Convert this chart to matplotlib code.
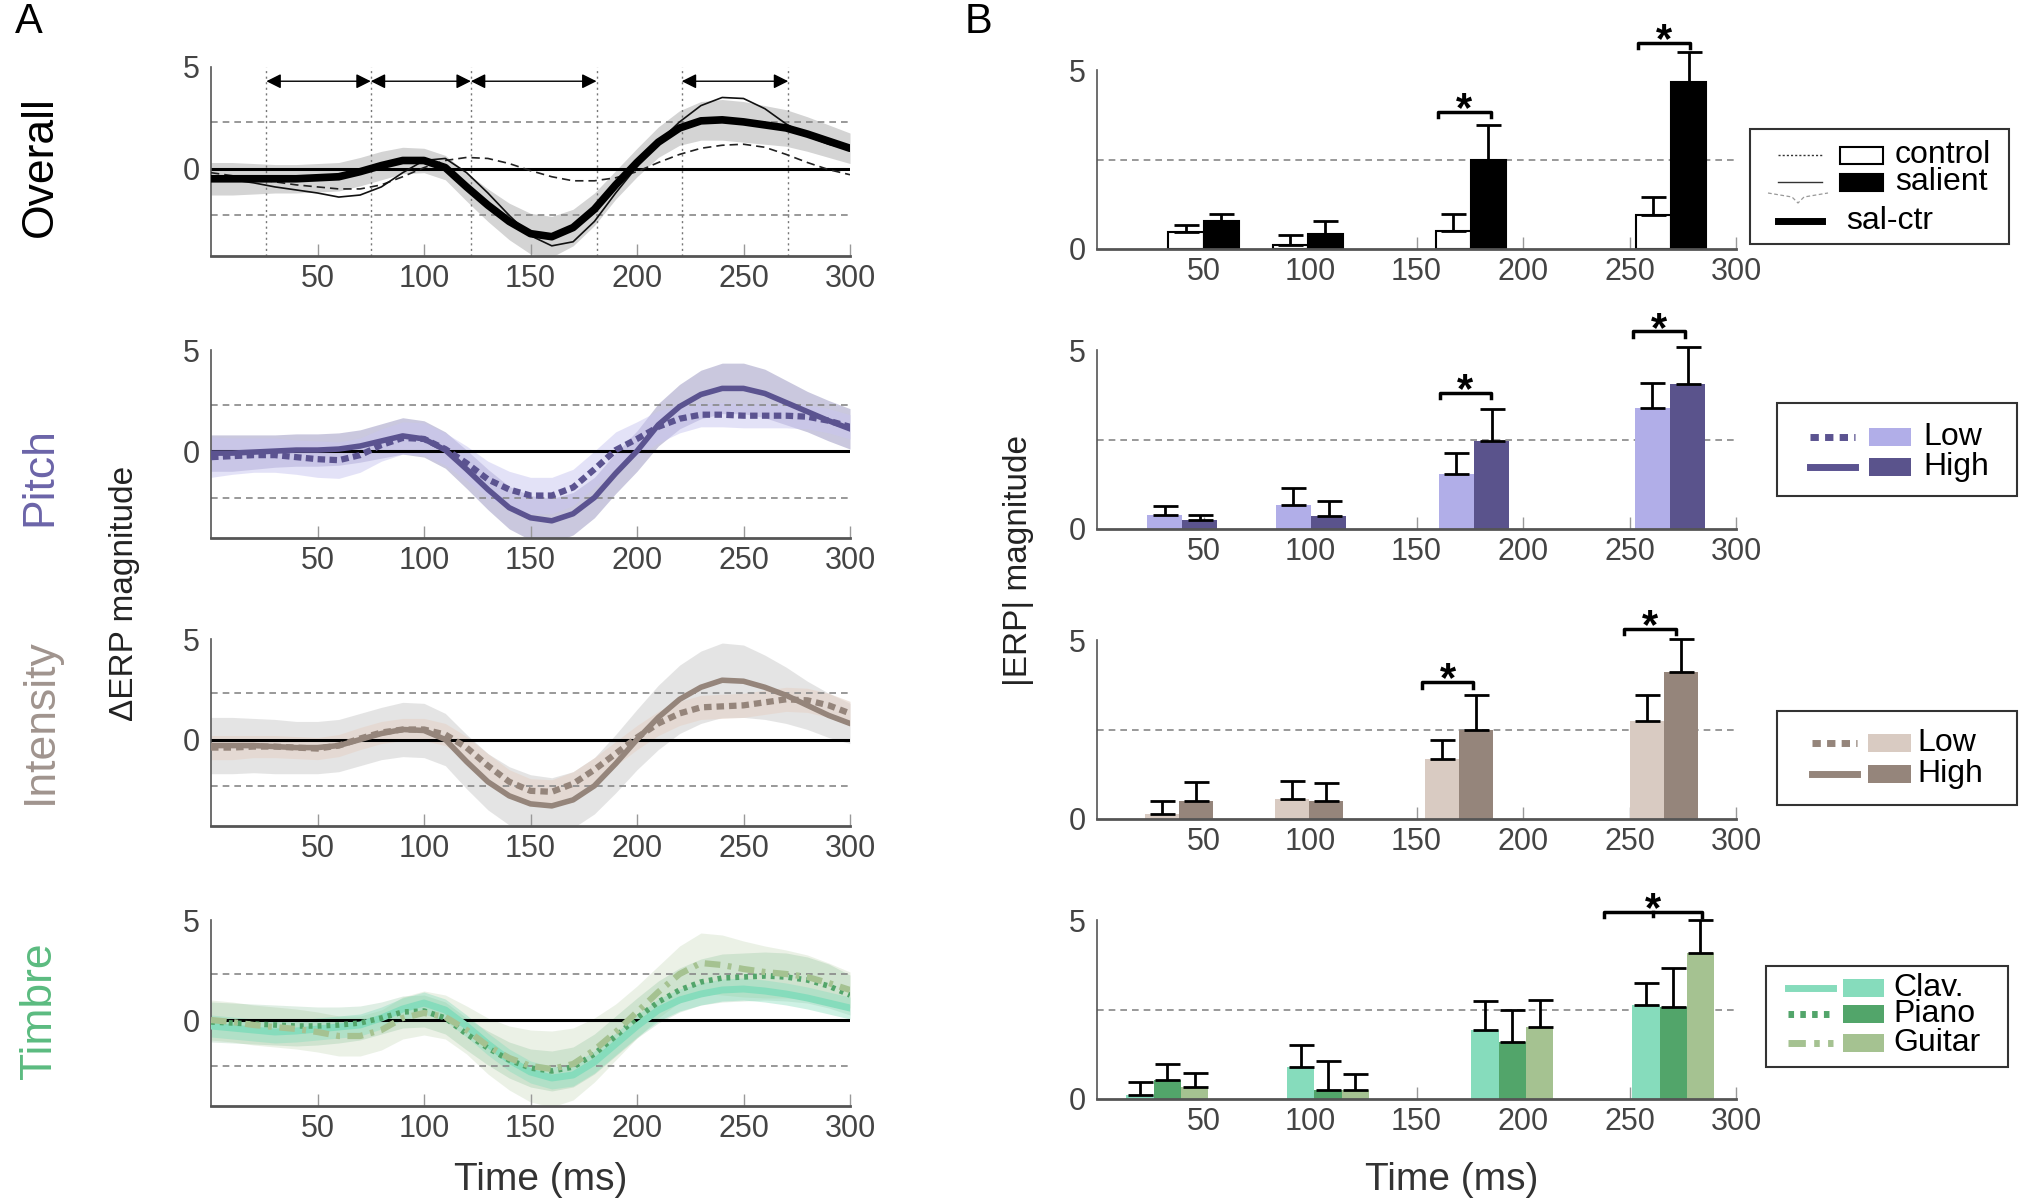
import numpy as np
import matplotlib
matplotlib.use('Agg')
from matplotlib import pyplot as plt
from matplotlib.patches import Rectangle

plt.rcParams['font.family'] = ['Liberation Sans', 'DejaVu Sans']

W, H = 2020, 1203

# ---- data: time courses (sampled every 10 ms) ----
t = np.arange(0, 301, 10)

overall_diff = [-0.5, -0.5, -0.5, -0.5, -0.5, -0.45, -0.4, -0.15, 0.15, 0.4, 0.4,
                0.05, -0.9, -1.8, -2.6, -3.2, -3.35, -2.9, -2.0, -0.8, 0.3,
                1.3, 2.0, 2.35, 2.4, 2.3, 2.15, 2.0, 1.7, 1.35, 1.0]
overall_diff_sem = [0.8, 0.8, 0.75, 0.7, 0.7, 0.7, 0.7, 0.7, 0.7, 0.65, 0.6,
                    0.6, 0.7, 0.8, 0.9, 1.0, 1.0, 0.9, 0.8, 0.7, 0.7,
                    0.75, 0.85, 0.95, 1.0, 1.0, 0.95, 0.9, 0.85, 0.8, 0.75]
overall_salient = [-0.4, -0.55, -0.7, -0.9, -1.05, -1.2, -1.4, -1.3, -0.9, -0.2, 0.4,
                   0.5, -0.2, -1.2, -2.3, -3.3, -3.8, -3.6, -2.6, -1.2, 0.1,
                   1.3, 2.3, 3.1, 3.5, 3.45, 2.95, 2.2, 1.6, 1.2, 0.95]
overall_control = [-0.2, -0.35, -0.5, -0.65, -0.8, -0.9, -1.0, -1.0, -0.8, -0.4, 0.05,
                   0.4, 0.55, 0.5, 0.25, -0.1, -0.4, -0.6, -0.6, -0.45, -0.15,
                   0.3, 0.7, 1.0, 1.15, 1.2, 1.05, 0.7, 0.3, -0.05, -0.3]

pitch_high = [-0.1, -0.1, -0.05, 0.0, 0.05, 0.05, 0.1, 0.25, 0.5, 0.75, 0.6,
              0.05, -0.9, -1.9, -2.8, -3.3, -3.45, -3.1, -2.3, -1.1, 0.0,
              1.3, 2.2, 2.8, 3.1, 3.1, 2.85, 2.4, 1.95, 1.5, 1.1]
pitch_high_sem = [0.9, 0.9, 0.85, 0.8, 0.8, 0.8, 0.8, 0.8, 0.85, 0.9, 0.9,
                  0.9, 0.95, 1.0, 1.05, 1.1, 1.1, 1.05, 1.0, 1.0, 1.0,
                  1.05, 1.1, 1.2, 1.25, 1.25, 1.2, 1.1, 1.0, 1.0, 1.0]
pitch_low = [-0.3, -0.25, -0.2, -0.2, -0.3, -0.4, -0.45, -0.2, 0.3, 0.65, 0.6,
             0.1, -0.6, -1.4, -1.9, -2.2, -2.2, -1.8, -0.9, 0.05, 0.6,
             1.2, 1.6, 1.8, 1.8, 1.75, 1.75, 1.75, 1.7, 1.5, 1.2]
pitch_low_sem = [1.0, 0.9, 0.85, 0.85, 0.85, 0.9, 0.9, 0.85, 0.8, 0.8, 0.8,
                 0.8, 0.85, 0.9, 0.9, 0.9, 0.9, 0.9, 0.9, 0.9, 0.85,
                 0.8, 0.7, 0.6, 0.6, 0.6, 0.6, 0.6, 0.6, 0.6, 0.6]

int_high = [-0.3, -0.3, -0.3, -0.35, -0.4, -0.4, -0.3, 0.0, 0.3, 0.5, 0.45,
            0.0, -1.1, -2.1, -2.8, -3.2, -3.3, -3.0, -2.3, -1.2, 0.0,
            1.1, 2.0, 2.6, 2.95, 2.9, 2.6, 2.2, 1.7, 1.2, 0.8]
int_high_sem = [1.4, 1.4, 1.35, 1.35, 1.3, 1.3, 1.3, 1.3, 1.3, 1.35, 1.35,
                1.3, 1.35, 1.4, 1.45, 1.45, 1.4, 1.4, 1.4, 1.45, 1.5,
                1.6, 1.7, 1.8, 1.85, 1.8, 1.6, 1.4, 1.2, 1.1, 1.0]
int_low = [-0.4, -0.4, -0.35, -0.35, -0.4, -0.45, -0.3, 0.05, 0.35, 0.5, 0.5,
           0.25, -0.4, -1.3, -2.1, -2.55, -2.6, -2.2, -1.5, -0.7, 0.1,
           0.8, 1.3, 1.6, 1.65, 1.7, 1.85, 2.0, 1.95, 1.7, 1.3]
int_low_sem = [0.6, 0.6, 0.55, 0.55, 0.55, 0.55, 0.55, 0.55, 0.55, 0.55, 0.55,
               0.55, 0.55, 0.6, 0.6, 0.6, 0.6, 0.6, 0.6, 0.6, 0.6,
               0.6, 0.6, 0.6, 0.6, 0.6, 0.6, 0.6, 0.6, 0.6, 0.6]

timbre_clav = [-0.3, -0.4, -0.5, -0.6, -0.55, -0.45, -0.35, -0.25, 0.1, 0.55, 0.85,
               0.5, -0.3, -1.2, -2.0, -2.6, -2.9, -2.75, -2.1, -1.2, -0.3,
               0.5, 1.0, 1.3, 1.5, 1.55, 1.45, 1.3, 1.1, 0.85, 0.6]
timbre_piano = [-0.1, -0.15, -0.2, -0.25, -0.3, -0.3, -0.25, -0.15, 0.1, 0.4, 0.45,
                0.1, -0.7, -1.4, -2.0, -2.4, -2.55, -2.35, -1.7, -0.8, 0.1,
                0.9, 1.5, 1.9, 2.1, 2.15, 2.2, 2.15, 2.0, 1.7, 1.25]
timbre_guitar = [0.0, -0.1, -0.25, -0.35, -0.45, -0.6, -0.8, -0.8, -0.5, 0.1, 0.35,
                 0.15, -0.5, -1.3, -1.9, -2.3, -2.45, -2.2, -1.5, -0.6, 0.4,
                 1.4, 2.3, 2.85, 2.75, 2.55, 2.4, 2.3, 2.15, 1.85, 1.5]
timbre_clav_sem = [0.55] * 31
timbre_piano_sem = [1.0, 1.0, 1.0, 1.0, 1.0, 0.95, 0.9, 0.85, 0.8, 0.8, 0.8,
                    0.8, 0.8, 0.85, 0.9, 0.95, 1.0, 1.0, 1.0, 1.0, 1.0,
                    1.05, 1.1, 1.15, 1.2, 1.2, 1.2, 1.2, 1.15, 1.1, 1.0]
timbre_guitar_sem = [1.0, 1.0, 1.0, 1.0, 1.0, 1.0, 1.0, 1.0, 1.0, 1.05, 1.1,
                     1.1, 1.2, 1.4, 1.6, 1.8, 1.9, 1.8, 1.6, 1.4, 1.3,
                     1.3, 1.4, 1.5, 1.5, 1.4, 1.3, 1.2, 1.1, 1.0, 0.9]

window_edges = [26, 75, 122, 181, 221, 271]
window_arrows = [(26, 75), (75, 122), (122, 181), (221, 271)]

# ---- data: window magnitudes (bars) ----
overall_t = [50, 99, 175.5, 269.5]
overall_ctrl = [0.48, 0.11, 0.5, 0.96]
overall_ctrl_err = [0.19, 0.27, 0.49, 0.48]
overall_sal = [0.77, 0.42, 2.5, 4.66]
overall_sal_err = [0.2, 0.36, 0.96, 0.83]

pitch_t = [40, 100.5, 177, 269]
pitch_low_bar = [0.39, 0.66, 1.55, 3.38]
pitch_low_err = [0.26, 0.48, 0.56, 0.71]
pitch_high_bar = [0.24, 0.35, 2.46, 4.04]
pitch_high_err = [0.16, 0.44, 0.89, 1.05]

int_t = [38.5, 99.5, 170, 266]
int_low_bar = [0.14, 0.55, 1.67, 2.74]
int_low_err = [0.35, 0.5, 0.53, 0.72]
int_high_bar = [0.5, 0.5, 2.5, 4.12]
int_high_err = [0.53, 0.5, 0.96, 0.92]

timbre_t = [33, 108.5, 195, 270.5]
timbre_clav_bar = [0.11, 0.9, 1.94, 2.63]
timbre_clav_err = [0.36, 0.6, 0.79, 0.6]
timbre_piano_bar = [0.52, 0.25, 1.6, 2.57]
timbre_piano_err = [0.45, 0.81, 0.9, 1.1]
timbre_guitar_bar = [0.34, 0.25, 2.0, 4.08]
timbre_guitar_err = [0.39, 0.45, 0.76, 0.92]

# significance brackets: (x0, x1, y)
overall_sig = [(160, 185, 3.83), (254, 278.5, 5.76)]
pitch_sig = [(161, 185, 3.81), (251.7, 276, 5.52)]
int_sig = [(152.7, 176.7, 3.82), (247.6, 271.7, 5.32)]
timbre_sig = [(238, 284, 5.22)]

ticks = [50, 100, 150, 200, 250, 300]

# colours
PITCH_DARK, PITCH_LIGHT = '#5b5390', '#b1aee8'
INT_DARK, INT_LIGHT = '#95857b', '#d9cbc2'
CLAV, PIANO, GUITAR = '#86dcbc', '#52a56a', '#a5c291'

fig = plt.figure(figsize=(W / 100, H / 100), dpi=100)


def px_axes(x0, y_top, x1, y_bot):
    return fig.add_axes([x0 / W, 1 - y_bot / H, (x1 - x0) / W, (y_bot - y_top) / H])


def style(ax):
    for s in ['top', 'right']:
        ax.spines[s].set_visible(False)
    ax.spines['left'].set_color('#555')
    ax.spines['left'].set_linewidth(1.2)
    ax.spines['bottom'].set_color('#555')
    ax.spines['bottom'].set_linewidth(2)
    ax.set_xlim(0, 300)
    ax.set_xticks(ticks)
    ax.set_yticks([0, 5])
    ax.tick_params(axis='x', direction='in', length=9, width=1, color='#999',
                   labelsize=22, labelcolor='#444', pad=6)
    ax.tick_params(axis='y', length=0, labelsize=22, labelcolor='#444', pad=8)
    ax.patch.set_visible(False)


def left_panel(y_top, y_bot):
    ax = px_axes(211, y_top, 850, y_bot)
    style(ax)
    ax.set_ylim(-4.3, 5)
    ax.axhline(2.3, color='#888', lw=1.2, ls=(0, (4, 3)), zorder=1)
    ax.axhline(-2.3, color='#888', lw=1.2, ls=(0, (4, 3)), zorder=1)
    return ax


def band(ax, m, s, color, alpha):
    m = np.array(m)
    s = np.array(s)
    ax.fill_between(t, m - s, m + s, color=color, alpha=alpha, lw=0, zorder=0)


# ---- A: Overall ----
ax = left_panel(67, 256)
band(ax, overall_diff, overall_diff_sem, '#d4d4d4', 1.0)
for e in window_edges:
    ax.axvline(e, color='#777', lw=1, ls=(0, (1.5, 2.5)), zorder=1)
for a, b in window_arrows:
    ax.annotate('', xy=(b, 4.3), xytext=(a, 4.3),
                arrowprops=dict(arrowstyle='<|-|>', color='k', lw=1,
                                mutation_scale=22, shrinkA=0, shrinkB=0))
ax.axhline(0, color='k', lw=2.2, zorder=2)
ax.plot(t, overall_control, color='#222', lw=1.2, ls=(0, (5, 3)), zorder=3)
ax.plot(t, overall_salient, color='#111', lw=1.2, zorder=3)
ax.plot(t, overall_diff, color='k', lw=5.5, zorder=4, solid_capstyle='round')

# ---- A: Pitch ----
ax = left_panel(350, 538)
band(ax, pitch_high, pitch_high_sem, '#9f9cc4', 0.55)
band(ax, pitch_low, pitch_low_sem, '#c9c6f0', 0.5)
ax.axhline(0, color='k', lw=2.2, zorder=2)
ax.plot(t, pitch_high, color=PITCH_DARK, lw=4, zorder=3)
ax.plot(t, pitch_low, color=PITCH_DARK, lw=4.5, ls=(0, (1.2, 0.7)), zorder=3)

# ---- A: Intensity ----
ax = left_panel(639, 826)
band(ax, int_high, int_high_sem, '#cfcfcf', 0.55)
band(ax, int_low, int_low_sem, '#e4d3c8', 0.6)
ax.axhline(0, color='k', lw=2.2, zorder=2)
ax.plot(t, int_high, color=INT_DARK, lw=4, zorder=3)
ax.plot(t, int_low, color=INT_DARK, lw=4.5, ls=(0, (1.2, 0.8)), zorder=3)

# ---- A: Timbre ----
ax = left_panel(920, 1106)
band(ax, timbre_guitar, timbre_guitar_sem, GUITAR, 0.22)
band(ax, timbre_piano, timbre_piano_sem, PIANO, 0.18)
band(ax, timbre_clav, timbre_clav_sem, CLAV, 0.4)
ax.axhline(0, color='k', lw=2.2, zorder=2)
ax.plot(t, timbre_clav, color=CLAV, lw=5, zorder=3)
ax.plot(t, timbre_piano, color=PIANO, lw=4, ls=(0, (0.7, 0.9)), zorder=3)
ax.plot(t, timbre_guitar, color=GUITAR, lw=4.5, ls=(0, (2.5, 1.2, 0.6, 1.2)), zorder=3)


# ---- B: bar panels ----
def right_panel(y5, y0):
    unit = (y0 - y5) / 5
    ax = px_axes(1097, y5 - 1.2 * unit, 1736, y0)
    style(ax)
    ax.set_ylim(0, 6.2)
    ax.spines['left'].set_bounds(0, 5)
    ax.axhline(2.48, color='#888', lw=1.2, ls=(0, (4, 3)), zorder=1)
    return ax


def bars(ax, centers, width, series):
    n = len(series)
    for i, (vals, errs, fc, ec) in enumerate(series):
        x = np.array(centers) + (i - (n - 1) / 2) * width
        ax.bar(x, vals, width=width, color=fc, edgecolor=ec, lw=1.5 if ec != 'none' else 0,
               zorder=2)
        ax.errorbar(x, vals, yerr=[np.zeros(len(vals)), errs], fmt='none', ecolor='k',
                    elinewidth=2, capsize=9, capthick=2, zorder=3)


def brackets(ax, sigs, center_tick=False):
    for x0, x1, y in sigs:
        ax.plot([x0, x0, x1, x1], [y - 0.15, y, y, y - 0.15], color='k', lw=2.5,
                clip_on=False, zorder=4)
        xc = (x0 + x1) / 2
        if center_tick:
            ax.plot([xc, xc], [y, y - 0.12], color='k', lw=2.5, clip_on=False)
        ax.text(xc, y + 0.05, '*', ha='center', va='center', fontsize=30,
                fontweight='bold')


ax = right_panel(70, 249)
bars(ax, overall_t, 16.5, [(overall_ctrl, overall_ctrl_err, 'white', 'k'),
                           (overall_sal, overall_sal_err, 'k', 'k')])
brackets(ax, overall_sig)

ax = right_panel(350, 529)
bars(ax, pitch_t, 16.5, [(pitch_low_bar, pitch_low_err, PITCH_LIGHT, 'none'),
                         (pitch_high_bar, pitch_high_err, '#5a538c', 'none')])
brackets(ax, pitch_sig)

ax = right_panel(640, 819)
bars(ax, int_t, 16.0, [(int_low_bar, int_low_err, INT_LIGHT, 'none'),
                       (int_high_bar, int_high_err, INT_DARK, 'none')])
brackets(ax, int_sig)

ax = right_panel(920, 1099)
bars(ax, timbre_t, 12.8, [(timbre_clav_bar, timbre_clav_err, CLAV, 'none'),
                          (timbre_piano_bar, timbre_piano_err, PIANO, 'none'),
                          (timbre_guitar_bar, timbre_guitar_err, GUITAR, 'none')])
brackets(ax, timbre_sig, center_tick=True)

# ---- overlay: labels and legends (pixel coordinates) ----
ov = fig.add_axes([0, 0, 1, 1], zorder=10)
ov.set_xlim(0, W)
ov.set_ylim(H, 0)
ov.axis('off')

ov.text(15, 22, 'A', fontsize=30, ha='left', va='center')
ov.text(965, 22, 'B', fontsize=30, ha='left', va='center')

for label, y, c in [('Overall', 167, 'k'), ('Pitch', 477, '#6b64a8'),
                    ('Intensity', 721, '#a0948e'), ('Timbre', 1011, '#5bbb80')]:
    ov.text(40, y, label, rotation=90, ha='center', va='center', fontsize=32, color=c)

ov.text(125, 593, '\u0394ERP magnitude', rotation=90, ha='center', va='center',
        fontsize=24, color='#222')
ov.text(1018, 560, '|ERP| magnitude', rotation=90, ha='center', va='center',
        fontsize=24, color='#222')
ov.text(541, 1180, 'Time (ms)', ha='center', va='center', fontsize=28, color='#333')
ov.text(1452, 1180, 'Time (ms)', ha='center', va='center', fontsize=28, color='#333')


def legend_box(x0, y0, x1, y1):
    ov.add_patch(Rectangle((x0, y0), x1 - x0, y1 - y0, fill=False, ec='#333', lw=1.5))


def legend_row(lx0, lx1, y, px0, px1, text_x, text, line_kw, patch_fc=None,
               patch_ec='none', ph=18):
    ov.plot([lx0, lx1], [y, y], **line_kw)
    if patch_fc is not None:
        ov.add_patch(Rectangle((px0, y - ph / 2), px1 - px0, ph, fc=patch_fc,
                               ec=patch_ec, lw=1.5))
    ov.text(text_x, y, text, ha='left', va='center', fontsize=23, color='k')


# legend 1
legend_box(1750, 129, 2009, 244)
legend_row(1778, 1822, 155, 1840, 1883, 1895, 'control',
           dict(color='#333', lw=1, ls=(0, (1.5, 1.5))), 'white', 'k', 17)
legend_row(1778, 1822, 182, 1840, 1883, 1895, 'salient',
           dict(color='#333', lw=1), 'k', 'k', 17)
ov.plot([1768, 1792, 1798, 1804, 1828], [193, 197, 203, 197, 193], color='#999',
        lw=0.9, ls=(0, (3, 2)))
legend_row(1778, 1822, 221, 0, 0, 1846, 'sal-ctr', dict(color='k', lw=5))

# legend 2
legend_box(1777, 403, 2017, 496)
legend_row(1810, 1855, 437, 1869, 1911, 1923, 'Low',
           dict(color=PITCH_DARK, lw=5, ls=(0, (1.2, 0.9))), PITCH_LIGHT)
legend_row(1810, 1855, 467, 1869, 1911, 1923, 'High',
           dict(color=PITCH_DARK, lw=5), '#5a538c')

# legend 3
legend_box(1777, 711, 2017, 805)
legend_row(1812, 1857, 743, 1868, 1911, 1917, 'Low',
           dict(color=INT_DARK, lw=5, ls=(0, (1.2, 0.9))), INT_LIGHT)
legend_row(1812, 1857, 774, 1868, 1911, 1917, 'High',
           dict(color=INT_DARK, lw=5), INT_DARK)

# legend 4
legend_box(1766, 966, 2008, 1067)
legend_row(1788, 1833, 988, 1843, 1884, 1893, 'Clav.',
           dict(color=CLAV, lw=5), CLAV)
legend_row(1788, 1833, 1014, 1843, 1884, 1893, 'Piano',
           dict(color=PIANO, lw=5, ls=(0, (0.8, 0.9))), PIANO)
legend_row(1788, 1833, 1043, 1843, 1884, 1893, 'Guitar',
           dict(color=GUITAR, lw=5, ls=(0, (2.5, 1.2, 0.8, 1.2))), GUITAR)

fig.savefig('out.png', dpi=100)
